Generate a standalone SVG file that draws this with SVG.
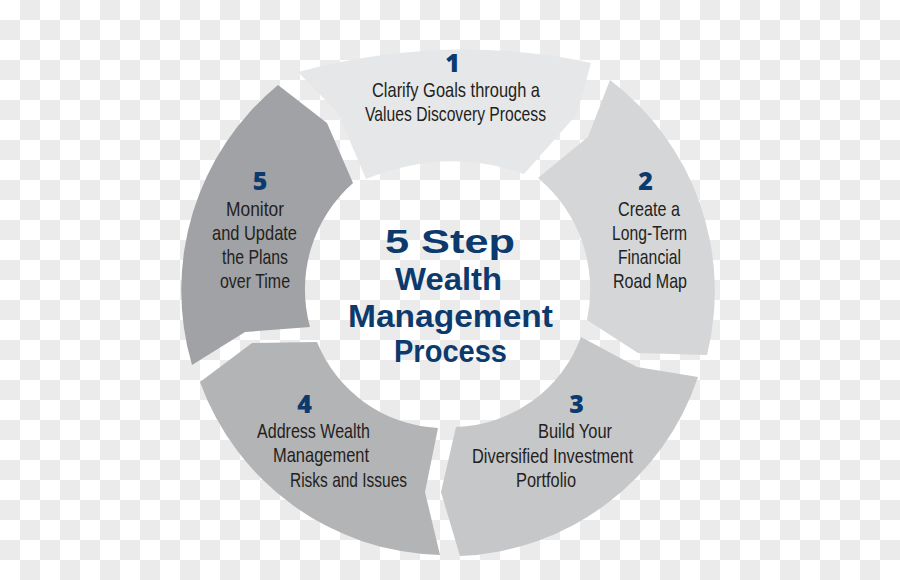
<svg xmlns="http://www.w3.org/2000/svg" width="900" height="580" viewBox="0 0 900 580">
  <defs>
    <pattern id="checker" width="40" height="40" patternUnits="userSpaceOnUse">
      <rect width="40" height="40" fill="#ffffff"/>
      <rect x="20" y="0" width="20" height="20" fill="#ebebeb"/>
      <rect x="0" y="20" width="20" height="20" fill="#ebebeb"/>
    </pattern>
    <style>
      .txt { font-family: "Liberation Sans Narrow", "Liberation Sans", Arial, sans-serif; font-size: 21px; fill: #231f20; }
      .num { font-family: "Open Sans", "Liberation Sans", sans-serif; font-weight: 800; font-size: 25px; fill: #0c3a6d; text-anchor: middle; }
      .title { font-family: "Liberation Sans", Arial, sans-serif; font-weight: 700; fill: #0c3a6d; }
      .s1 { fill: #e6e7e8; }
      .s2 { fill: #d5d6d8; }
      .s3 { fill: #c6c7c9; }
      .s4 { fill: #b3b4b6; }
      .s5 { fill: #a1a2a5; }
    </style>
  </defs>
  <rect width="900" height="580" fill="url(#checker)"/>

  <g id="step1">
    <path class="s1" d="M298,72 Q447,32 591,63 L577,114 L524,174 Q447,146 366,179 L338,113 Z"/>
    <text class="num" x="452.5" y="72">1</text>
    <text class="txt" x="372" y="97" textLength="168" lengthAdjust="spacingAndGlyphs">Clarify Goals through a</text>
    <text class="txt" x="365" y="121" textLength="181" lengthAdjust="spacingAndGlyphs">Values Discovery Process</text>
  </g>

  <g id="step2">
    <path class="s2" d="M610,80 A265,265 0 0 1 707,355 L638,353 L587,320 A145,145 0 0 0 538,178 L588,137 Z"/>
    <text class="num" x="645.5" y="190">2</text>
    <text class="txt" x="618" y="216" textLength="62" lengthAdjust="spacingAndGlyphs">Create a</text>
    <text class="txt" x="612" y="240" textLength="75" lengthAdjust="spacingAndGlyphs">Long-Term</text>
    <text class="txt" x="618" y="264" textLength="63" lengthAdjust="spacingAndGlyphs">Financial</text>
    <text class="txt" x="613" y="288" textLength="74" lengthAdjust="spacingAndGlyphs">Road Map</text>
  </g>

  <g id="step3">
    <path class="s3" d="M698,377 A262,262 0 0 1 460,556 L441,492 L456,427 A138,138 0 0 0 581,337 L637,367 Z"/>
    <text class="num" x="576.5" y="413">3</text>
    <text class="txt" x="538" y="438" textLength="74" lengthAdjust="spacingAndGlyphs">Build Your</text>
    <text class="txt" x="472" y="463" textLength="161" lengthAdjust="spacingAndGlyphs">Diversified Investment</text>
    <text class="txt" x="516" y="487" textLength="60" lengthAdjust="spacingAndGlyphs">Portfolio</text>
  </g>

  <g id="step4">
    <path class="s4" d="M440,555 A262,262 0 0 1 200,382 L252,343 L317,342 A138,138 0 0 0 438,428 L425,492 Z"/>
    <text class="num" x="304.5" y="413">4</text>
    <text class="txt" x="257" y="438" textLength="113" lengthAdjust="spacingAndGlyphs">Address Wealth</text>
    <text class="txt" x="273" y="462" textLength="96" lengthAdjust="spacingAndGlyphs">Management</text>
    <text class="txt" x="290" y="487" textLength="117" lengthAdjust="spacingAndGlyphs">Risks and Issues</text>
  </g>

  <g id="step5">
    <path class="s5" d="M192,365 A266,266 0 0 1 278,85 L327,123 L353,183 A142,142 0 0 0 310,327 L245,332 Z"/>
    <text class="num" x="260" y="190">5</text>
    <text class="txt" x="226" y="215.5" textLength="58" lengthAdjust="spacingAndGlyphs">Monitor</text>
    <text class="txt" x="212" y="239.5" textLength="85" lengthAdjust="spacingAndGlyphs">and Update</text>
    <text class="txt" x="222" y="263.5" textLength="66" lengthAdjust="spacingAndGlyphs">the Plans</text>
    <text class="txt" x="220" y="287.5" textLength="70" lengthAdjust="spacingAndGlyphs">over Time</text>
  </g>

  <g id="center-title">
    <text class="title" x="385" y="253" font-size="34" textLength="130" lengthAdjust="spacingAndGlyphs">5 Step</text>
    <text class="title" x="395" y="290" font-size="32" textLength="107" lengthAdjust="spacingAndGlyphs">Wealth</text>
    <text class="title" x="348" y="327" font-size="32" textLength="205" lengthAdjust="spacingAndGlyphs">Management</text>
    <text class="title" x="394" y="362" font-size="31" textLength="113" lengthAdjust="spacingAndGlyphs">Process</text>
  </g>

  <g id="connectors"></g>
</svg>
